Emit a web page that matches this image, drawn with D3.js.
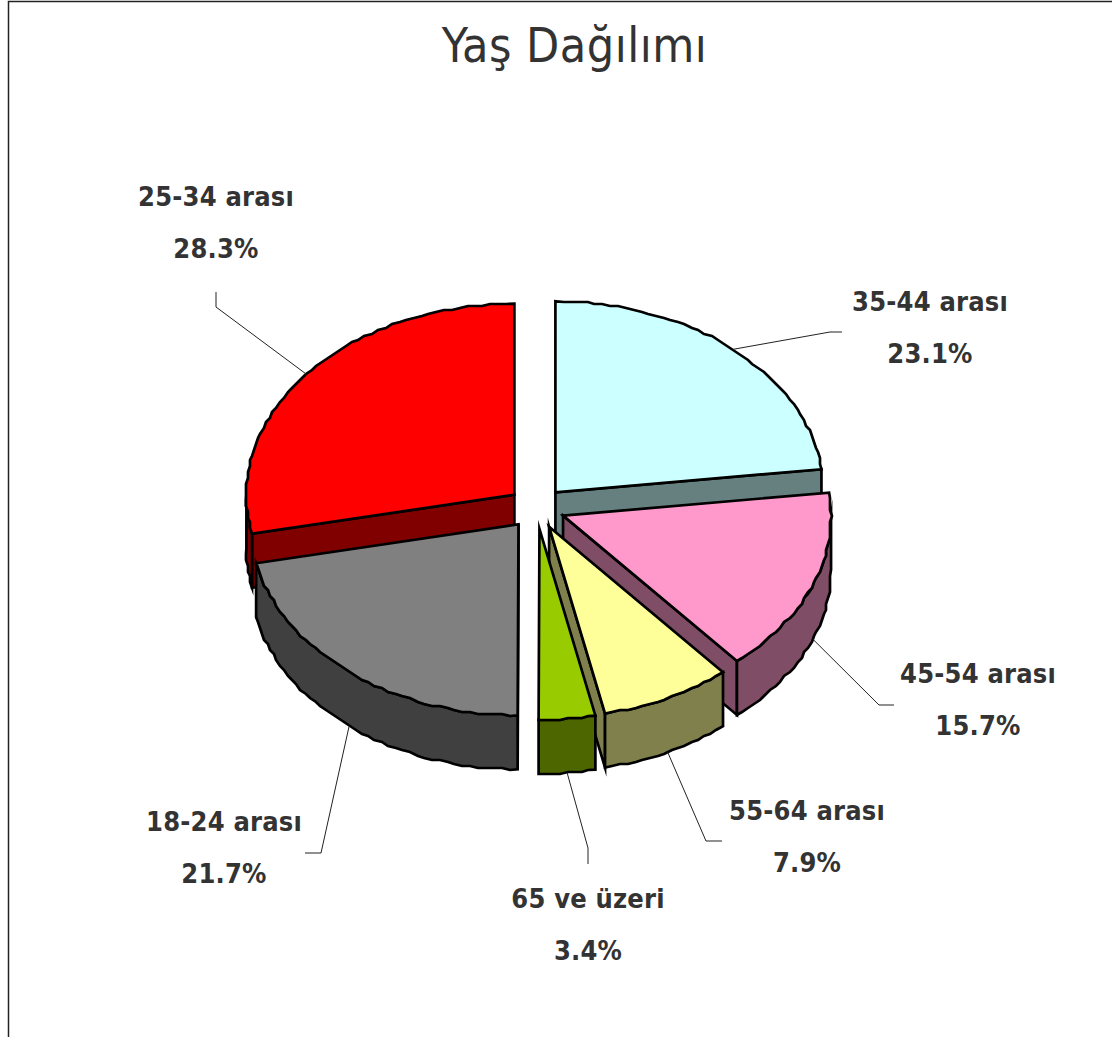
<!DOCTYPE html>
<html>
<head>
<meta charset="utf-8">
<script src="https://cdn.jsdelivr.net/npm/d3@7/dist/d3.min.js"></script>
<style>
body { margin: 0; background: #fff; }
text { fill: #333; text-anchor: middle; font-family: "DejaVu Sans Condensed", "DejaVu Sans", sans-serif; font-stretch: condensed; }
.title { font-size: 48px; letter-spacing: 0.5px; }
.label { font-size: 27px; font-weight: bold; letter-spacing: 0.2px; }
.slice { stroke: #000; stroke-width: 2.7; stroke-linejoin: miter; stroke-miterlimit: 20; }
.leader { fill: none; stroke: #222; stroke-width: 1; }
</style>
</head>
<body>
<script>
var categories = ["35-44 arası", "45-54 arası", "55-64 arası", "65 ve üzeri", "18-24 arası", "25-34 arası"];
var percents = [23.1, 15.7, 7.9, 3.4, 21.7, 28.3];
var colors = ["#ccffff", "#ff99cc", "#ffff99", "#99cc00", "#808080", "#ff0000"];
var title = "Yaş Dağılımı";

var w = 1112;
var h = 1037;
var rx = 268;
var ry = 191;
var depth = 54;
var explodeX = 28.5;
var explodeY = 21;
var centerX = 536.5;
var centerY = 508;

// back slices first, so the front ones paint over them
var drawOrder = [0, 5, 1, 4, 2, 3];

// label centre, first baseline, then leader elbow and leader end
var labelLayout = [
	{x: 930, y: 311, elbow: [830, 332], end: [842, 332]},
	{x: 978, y: 683, elbow: [879, 705], end: [894, 705]},
	{x: 807, y: 820, elbow: [706, 841], end: [722, 841]},
	{x: 588, y: 908, elbow: [588, 848], end: [588, 864]},
	{x: 224, y: 831, elbow: [321, 853], end: [305, 853]},
	{x: 216, y: 206, elbow: [216, 307], end: [216, 292]}
];

var svg = d3.select("body")
			.append("svg")
			.attr("width", w)
			.attr("height", h)
			.style("display", "block");

//Frame
svg.append("path")
	.attr("d", "M8.5," + h + "V1.5H" + w)
	.attr("fill", "none")
	.attr("stroke", "#222")
	.attr("stroke-width", 1.5);

svg.append("text")
	.attr("class", "title")
	.attr("x", 574.5)
	.attr("y", 62)
	.text(title);

var pie = d3.pie().sort(null);
var arcs = pie(percents);

//Unit circle to page, one pair of scales for each exploded slice
arcs.forEach(function(d) {
	var mid = (d.startAngle + d.endAngle) / 2;
	var cx = centerX + explodeX * Math.sin(mid);
	var cy = centerY - explodeY * Math.cos(mid);
	d.xScale = d3.scaleLinear().domain([-1, 1]).range([cx - rx, cx + rx]);
	d.yScale = d3.scaleLinear().domain([-1, 1]).range([cy - ry, cy + ry]);
	d.mid = mid;
});

var line = d3.line();

// the original outline is coarse, so snap points on the rim to a small grid
function snap(v) {
	return Math.round(v / 2) * 2;
}

function rimPoints(d, a0, a1, drop) {
	var pts = [];
	var n = Math.max(1, Math.ceil((a1 - a0) / 0.03));
	d3.range(n + 1).forEach(function(i) {
		var a = a0 + (a1 - a0) * i / n;
		var x = d.xScale(Math.sin(a));
		var y = d.yScale(-Math.cos(a)) + drop;
		if (i > 0 && i < n) {
			x = snap(x);
			y = snap(y - drop) + drop;
		}
		pts.push([x, y]);
	});
	return pts;
}

function apex(d, drop) {
	return [d.xScale(0), d.yScale(0) + drop];
}

function shade(c) {
	var r = d3.rgb(c);
	return d3.rgb(r.r / 2, r.g / 2, r.b / 2).formatHex();
}

var PI = Math.PI;

drawOrder.forEach(function(i) {
	var d = arcs[i];
	var g = svg.append("g");
	var dark = shade(colors[i]);

	//Radial walls that face the viewer
	[d.startAngle, d.endAngle].forEach(function(a, k) {
		var facing = k === 0 ? Math.sin(a) < -1e-6 : Math.sin(a) > 1e-6;
		if (!facing) return;
		var outer = rimPoints(d, a, a, 0)[0];
		g.append("path")
			.attr("class", "slice")
			.attr("fill", dark)
			.attr("d", line([apex(d, 0), outer, [outer[0], outer[1] + depth], apex(d, depth)]) + "Z");
	});

	//Outer rim, only the lower half of the ellipse shows
	var a0 = Math.max(d.startAngle, PI / 2);
	var a1 = Math.min(d.endAngle, 3 * PI / 2);
	if (a1 > a0) {
		var topEdge = rimPoints(d, a0, a1, 0);
		var bottomEdge = rimPoints(d, a0, a1, depth).reverse();
		g.append("path")
			.attr("class", "slice")
			.attr("fill", dark)
			.attr("d", line(topEdge.concat(bottomEdge)) + "Z");
	}

	//Top face
	g.append("path")
		.attr("class", "slice")
		.attr("fill", colors[i])
		.attr("d", line([apex(d, 0)].concat(rimPoints(d, d.startAngle, d.endAngle, 0))) + "Z");
});

//Leaders and labels
arcs.forEach(function(d, i) {
	var l = labelLayout[i];
	var drop = Math.cos(d.mid) < 0 ? depth : 0;
	var start = [d.xScale(Math.sin(d.mid)), d.yScale(-Math.cos(d.mid)) + drop];
	svg.append("path")
		.attr("class", "leader")
		.attr("d", line([start, l.elbow, l.end]));
	svg.append("text")
		.attr("class", "label")
		.attr("x", l.x)
		.attr("y", l.y)
		.text(categories[i]);
	svg.append("text")
		.attr("class", "label")
		.attr("x", l.x)
		.attr("y", l.y + 52)
		.text(percents[i].toFixed(1) + "%");
});
</script>
</body>
</html>
